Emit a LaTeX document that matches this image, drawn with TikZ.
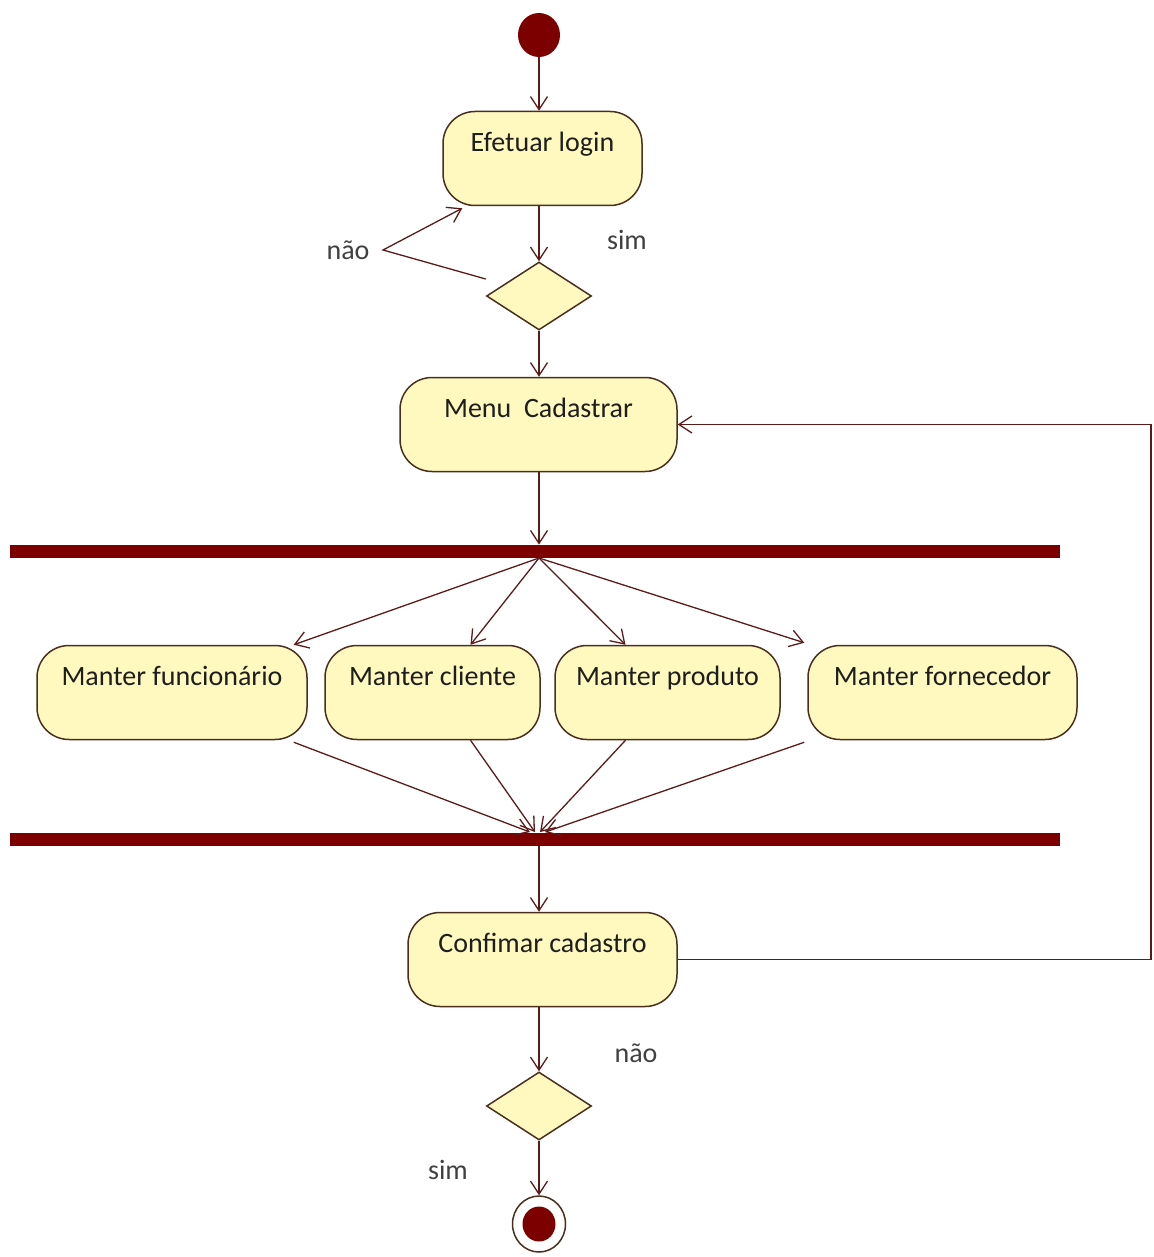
\documentclass[tikz,border=0pt]{standalone}
\usepackage{fontspec}
\setmainfont{Carlito}
\usetikzlibrary{arrows.meta,calc,shapes.geometric}
\definecolor{flow}{HTML}{5C1A1A}
\definecolor{edge}{HTML}{4A2E1E}
\definecolor{pale}{HTML}{FFF9C0}
\definecolor{maroon}{HTML}{7D0000}
\definecolor{ink}{HTML}{1E1E1E}
\begin{document}
\begin{tikzpicture}[x=0.5pt,y=-0.5pt,
  every node/.style={font=\fontsize{14}{17}\selectfont, text=ink},
  action/.style={draw=edge, fill=pale, line width=0.75pt, rounded corners=16pt,
    inner sep=0pt, text height=10pt, text depth=17pt, minimum height=47pt},
  choice/.style={diamond, draw=edge, fill=pale, line width=0.75pt,
    minimum width=52.5pt, minimum height=34pt, inner sep=0pt},
  syncbar/.style={fill=maroon, minimum width=525pt, minimum height=6.5pt, inner sep=0pt},
  flowline/.style={draw=flow, line width=0.65pt},
  arr/.style={flowline, -{Straight Barb[length=6.5pt,width=8.5pt]}},
  guard/.style={inner sep=0pt, text=ink!85}
]
\useasboundingbox (0,0) rectangle (1154,1257);

% main column and the return path on the right
\coordinate (col) at (539,0);
\coordinate (loopx) at (1151,0);

% start, login and first decision
\node[ellipse, fill=maroon, minimum width=21pt, minimum height=22pt, inner sep=0pt] (start) at (539,35) {};
\node[action, minimum width=99.5pt] (login) at (542.5,158.5) {Efetuar login};
\node[choice] (dec1) at (539,296) {};
\node[guard] (nao1) at (348,250) {não};
\node[guard] (sim1) at (627,240) {sim};
\coordinate (naobend) at (383,250);

% menu
\node[action, minimum width=138.5pt] (menu) at (538.5,424.5) {Menu\ \ Cadastrar};

% fork / join bars
\node[syncbar] (fork) at (535,551.5) {};
\node[syncbar] (join) at (535,839) {};

% parallel actions
\node[action, minimum width=135pt] (func) at (172,692.5) {Manter funcionário};
\node[action, minimum width=107.5pt] (cli) at (432.5,692.5) {Manter cliente};
\node[action, minimum width=112.5pt] (prod) at (667.5,692.5) {Manter produto};
\node[action, minimum width=134.5pt] (forn) at (942.5,692.5) {Manter fornecedor};

% confirmation and final decision
\node[action, minimum width=134.5pt] (conf) at (542.5,959.5) {Confimar cadastro};
\node[choice] (dec2) at (539,1106) {};
\node[guard] (nao2) at (636,1053) {não};
\node[guard] (sim2) at (448,1170) {sim};

% final state
\node[ellipse, draw=edge, fill=white, line width=0.75pt, minimum width=26.5pt, minimum height=28pt, inner sep=0pt] (final) at (539,1224) {};
\node[ellipse, fill=maroon, minimum width=16.5pt, minimum height=17.5pt, inner sep=0pt] (finaldot) at (final.center) {};

% flows along the main column
\draw[arr] (start.south) -- (col |- login.north);
\draw[arr] (col |- login.south) -- (dec1.north);
\draw[arr] (dec1.south) -- (col |- menu.north);
\draw[arr] (col |- menu.south) -- (col |- fork.north);
\draw[arr] (col |- join.south) -- (col |- conf.north);
\draw[arr] (col |- conf.south) -- (dec2.north);
\draw[arr] (dec2.south) -- (final.north);

% "não" back to login
\draw[arr] ($(dec1.west)+(0,-17)$) -- (naobend) -- ($(login.south west)+(20,2)$);

% fork
\coordinate (forkout) at (539,558);
\draw[arr] (forkout) -- ($(func.north east)+(-14,0)$);
\draw[arr] (forkout) -- ($(cli.north)+(38,0)$);
\draw[arr] (forkout) -- ($(prod.north)+(-42,0)$);
\draw[arr] (forkout) -- ($(forn.north west)+(-3,-2)$);

% join
\draw[arr] ($(func.south east)+(-14,2)$) -- ($(join.north)+(-5,0)$);
\draw[arr] ($(cli.south)+(38,0)$) -- ($(join.north)+(0,0)$);
\draw[arr] ($(prod.south)+(-42,0)$) -- ($(join.north)+(5,0)$);
\draw[arr] ($(forn.south west)+(-3,2)$) -- ($(join.north)+(10,0)$);

% "não" at confirmation returns to the menu
\draw[arr] (conf.east) -- (conf.east -| loopx) -- (menu.east -| loopx) -- (menu.east);
\end{tikzpicture}
\end{document}
